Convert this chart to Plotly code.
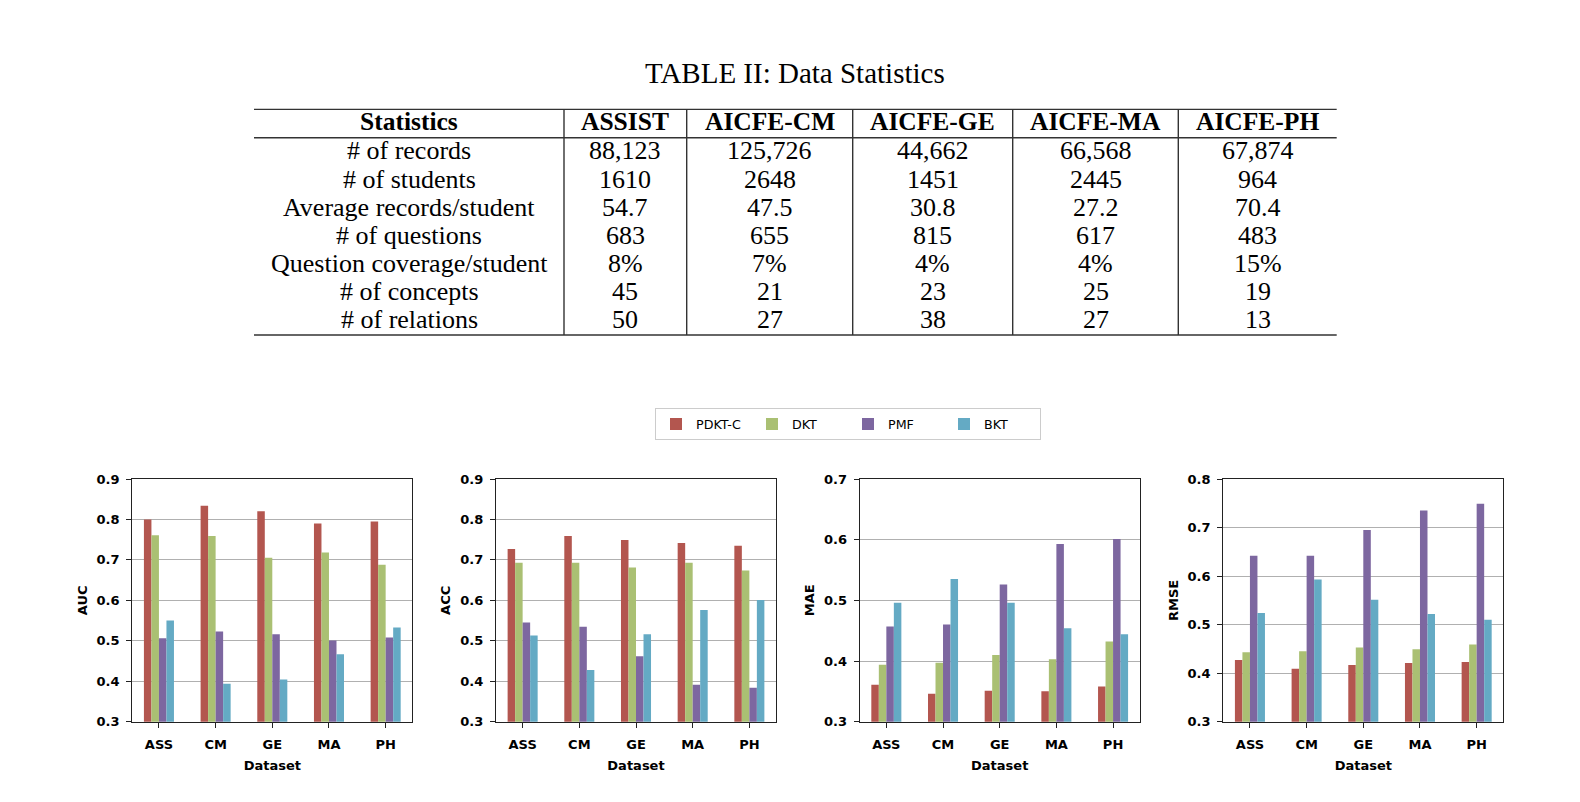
import plotly.graph_objects as go

# ---------------- data ----------------
datasets = ["ASS", "CM", "GE", "MA", "PH"]
models = ["PDKT-C", "DKT", "PMF", "BKT"]
colors = ["#b3564f", "#aac073", "#7d67a0", "#64aac4"]

auc_pdktc = [0.800, 0.834, 0.820, 0.790, 0.795]
auc_dkt = [0.761, 0.759, 0.705, 0.718, 0.688]
auc_pmf = [0.506, 0.523, 0.516, 0.501, 0.508]
auc_bkt = [0.550, 0.394, 0.404, 0.467, 0.533]

acc_pdktc = [0.727, 0.759, 0.749, 0.742, 0.735]
acc_dkt = [0.693, 0.693, 0.681, 0.693, 0.674]
acc_pmf = [0.545, 0.535, 0.462, 0.391, 0.384]
acc_bkt = [0.513, 0.428, 0.516, 0.576, 0.601]

mae_pdktc = [0.361, 0.346, 0.351, 0.350, 0.358]
mae_dkt = [0.394, 0.397, 0.410, 0.403, 0.432]
mae_pmf = [0.457, 0.460, 0.526, 0.593, 0.601]
mae_bkt = [0.496, 0.535, 0.496, 0.454, 0.444]

rmse_pdktc = [0.427, 0.409, 0.417, 0.421, 0.423]
rmse_dkt = [0.443, 0.445, 0.453, 0.449, 0.459]
rmse_pmf = [0.642, 0.642, 0.695, 0.735, 0.749]
rmse_bkt = [0.524, 0.593, 0.551, 0.522, 0.510]

metric_names = ["AUC", "ACC", "MAE", "RMSE"]
metric_ranges = [[0.3, 0.9], [0.3, 0.9], [0.3, 0.7], [0.3, 0.8]]

# table data
table_title = "TABLE II: Data Statistics"
table_header = ["Statistics", "ASSIST", "AICFE-CM", "AICFE-GE", "AICFE-MA", "AICFE-PH"]
stat_labels = ["# of records", "# of students", "Average records/student", "# of questions",
               "Question coverage/student", "# of concepts", "# of relations"]
col_assist = ["88,123", "1610", "54.7", "683", "8%", "45", "50"]
col_cm = ["125,726", "2648", "47.5", "655", "7%", "21", "27"]
col_ge = ["44,662", "1451", "30.8", "815", "4%", "23", "38"]
col_ma = ["66,568", "2445", "27.2", "617", "4%", "25", "27"]
col_ph = ["67,874", "964", "70.4", "483", "15%", "19", "13"]

# ---------------- layout helpers ----------------
W, H = 1580, 802


def px(x):
    return x / W


def py(y):
    return 1 - y / H


series = [
    [auc_pdktc, auc_dkt, auc_pmf, auc_bkt],
    [acc_pdktc, acc_dkt, acc_pmf, acc_bkt],
    [mae_pdktc, mae_dkt, mae_pmf, mae_bkt],
    [rmse_pdktc, rmse_dkt, rmse_pmf, rmse_bkt],
]

fig = go.Figure()
for k in range(4):
    ax = "" if k == 0 else str(k + 1)
    for m in range(4):
        fig.add_trace(go.Bar(
            x=datasets, y=series[k][m], name=models[m],
            marker=dict(color=colors[m], line=dict(width=0)),
            showlegend=(k == 0),
            xaxis="x" + ax, yaxis="y" + ax,
        ))

plot_lefts = [132.3, 496.0, 859.7, 1223.3]
plot_w = 280
top_px, bot_px = 481, 728.3

bold_font = dict(family="DejaVu Sans", size=13, color="black", weight="bold")
layout = dict(
    width=W, height=H, autosize=False,
    margin=dict(l=0, r=0, t=0, b=0),
    paper_bgcolor="white", plot_bgcolor="white",
    barmode="group", bargap=0.47, bargroupgap=0,
    showlegend=True,
    legend=dict(
        orientation="h", x=px(655), y=py(409), xanchor="left", yanchor="top",
        bordercolor="#cccccc", borderwidth=1, bgcolor="white",
        font=dict(family="DejaVu Sans", size=12.7, color="black"),
        entrywidth=51, entrywidthmode="pixels",
    ),
)
for k in range(4):
    ax = "" if k == 0 else str(k + 1)
    left = plot_lefts[k]
    layout["xaxis" + ax] = dict(
        domain=[px(left), px(left + plot_w)],
        anchor="y" + ax,
        range=[-0.47, 4.47],
        showline=True, mirror=True, linecolor="#222222", linewidth=1.2,
        ticks="outside", ticklen=5, tickwidth=1.2, tickcolor="#222222",
        tickfont=bold_font, ticklabelstandoff=6,
        showgrid=False, zeroline=False,
        title=dict(text="Dataset", font=bold_font, standoff=9),
    )
    layout["yaxis" + ax] = dict(
        domain=[py(bot_px), py(top_px)],
        anchor="x" + ax,
        range=metric_ranges[k], dtick=0.1, tickformat=".1f",
        showline=True, mirror=True, linecolor="#222222", linewidth=1.2,
        ticks="outside", ticklen=5, tickwidth=1.2, tickcolor="#222222",
        tickfont=bold_font, ticklabelstandoff=4,
        showgrid=True, gridcolor="#b0b0b0", gridwidth=1.3, zeroline=False,
        title=dict(text=metric_names[k], font=bold_font, standoff=6),
    )
fig.update_layout(**layout)

# ---------------- table (text + rules) ----------------
serif = "Liberation Serif, Times New Roman, serif"
annotations = []
annotations.append(dict(
    text=table_title, x=px(795), y=py(67.5), xref="paper", yref="paper",
    xanchor="center", yanchor="middle", showarrow=False,
    font=dict(family=serif, size=29, color="black"),
))

col_edges = [254, 564, 686.7, 852.7, 1012.7, 1178.3, 1336.7]
col_centers = [(col_edges[i] + col_edges[i + 1]) / 2 for i in range(6)]
header_y = 116.2
row_y0, row_step = 146.7, 28.6

for i, h in enumerate(table_header):
    annotations.append(dict(
        text="<b>" + h + "</b>", x=px(col_centers[i]), y=py(header_y),
        xref="paper", yref="paper", xanchor="center", yanchor="middle",
        showarrow=False, font=dict(family=serif, size=25.5, color="black"),
    ))

columns = [stat_labels, col_assist, col_cm, col_ge, col_ma, col_ph]
for c, col in enumerate(columns):
    for r, val in enumerate(col):
        annotations.append(dict(
            text=val, x=px(col_centers[c]), y=py(row_y0 + r * row_step),
            xref="paper", yref="paper", xanchor="center", yanchor="middle",
            showarrow=False, font=dict(family=serif, size=26, color="black"),
        ))

shapes = []
rule_color = "#333333"
for yy in [104.3, 133.3, 334.3]:
    shapes.append(dict(type="line", xref="paper", yref="paper",
                       x0=px(col_edges[0]), x1=px(col_edges[-1]), y0=py(yy), y1=py(yy),
                       line=dict(color=rule_color, width=1.4)))
for xx in col_edges[1:-1]:
    shapes.append(dict(type="line", xref="paper", yref="paper",
                       x0=px(xx), x1=px(xx), y0=py(104.3), y1=py(334.3),
                       line=dict(color=rule_color, width=1.4)))

fig.update_layout(annotations=annotations, shapes=shapes)

fig.write_html("out.html")
